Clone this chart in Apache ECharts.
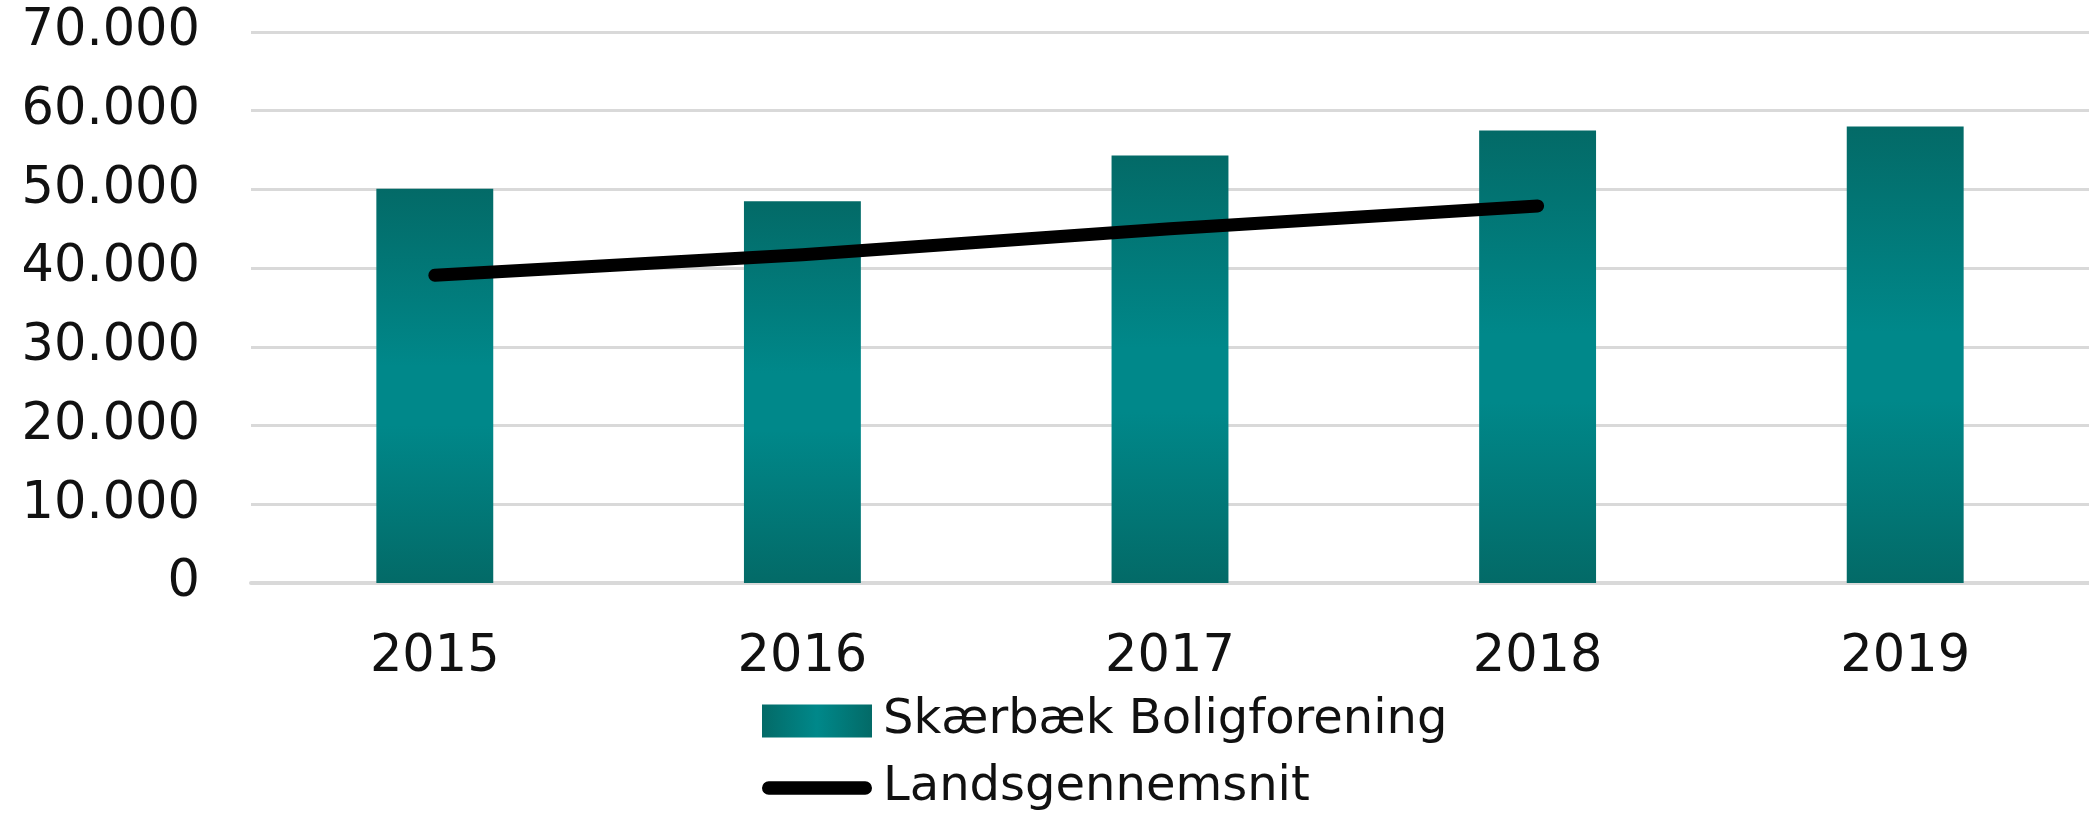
<!DOCTYPE html>
<html>
<head>
<meta charset="utf-8">
<title>Skærbæk Boligforening</title>
<script src="https://cdn.jsdelivr.net/npm/echarts/dist/echarts.min.js"></script>
<style>
  html, body { margin: 0; padding: 0; background: #fff; }
  #chart { width: 2089px; height: 816px; }
</style>
</head>
<body>
<div id="chart"></div>
<script>
var years = ['2015', '2016', '2017', '2018', '2019'];
var boligforening = [50100, 48500, 54300, 57500, 58000];
var landsgennemsnit = [39100, 41700, 45000, 47900];
var seriesNames = ['Skærbæk Boligforening', 'Landsgennemsnit'];

var FONT = '"DejaVu Sans", sans-serif';

function fmt(v) {
  return String(v).replace(/\B(?=(\d{3})+(?!\d))/g, '.');
}

var myChart = echarts.init(document.getElementById('chart'));
var barGradient = new echarts.graphic.LinearGradient(0, 0, 0, 1, [
  {offset: 0, color: '#036a67'},
  {offset: 0.45, color: '#00888a'},
  {offset: 0.6, color: '#00888a'},
  {offset: 1, color: '#036a67'}
]);
var legendGradient = new echarts.graphic.LinearGradient(0, 0, 1, 0, [
  {offset: 0, color: '#036a67'},
  {offset: 0.5, color: '#00888a'},
  {offset: 1, color: '#036a67'}
]);

var option = {
  animation: false,
  textStyle: { fontFamily: FONT },
  grid: { left: 251, right: 0, top: 32, bottom: 233 },
  legend: {
    orient: 'vertical',
    left: 757,
    top: 692,
    height: 200,
    itemWidth: 110,
    itemHeight: 33,
    itemGap: 19,
    textStyle: { fontSize: 48, color: '#111', fontFamily: FONT, padding: [0, 0, 0, 6] },
    data: [
      { name: seriesNames[0], icon: 'rect', itemStyle: { color: legendGradient } },
      { name: seriesNames[1], icon: 'path://M7,0 L107,0 A7,7 0 0 1 107,14 L7,14 A7,7 0 0 1 7,0 Z', itemStyle: { color: '#000' } }
    ]
  },
  xAxis: {
    type: 'category',
    data: years,
    axisTick: { show: false },
    axisLine: { lineStyle: { color: '#d9d9d9', width: 4 } },
    axisLabel: { fontSize: 51, color: '#111', margin: 49, fontFamily: FONT }
  },
  yAxis: {
    type: 'value',
    min: 0,
    max: 70000,
    interval: 10000,
    axisLine: { show: false },
    axisTick: { show: false },
    splitLine: { lineStyle: { color: '#d9d9d9', width: 3 } },
    axisLabel: { fontSize: 51, color: '#111', margin: 51, formatter: fmt, fontFamily: FONT }
  },
  series: [
    {
      name: seriesNames[0],
      type: 'bar',
      data: boligforening,
      barWidth: '31.8%',
      itemStyle: { color: barGradient }
    },
    {
      name: seriesNames[1],
      type: 'line',
      data: landsgennemsnit,
      symbol: 'none',
      z: 5,
      lineStyle: { color: '#000', width: 13, cap: 'round', join: 'round' }
    }
  ]
};
myChart.setOption(option);
</script>
</body>
</html>
